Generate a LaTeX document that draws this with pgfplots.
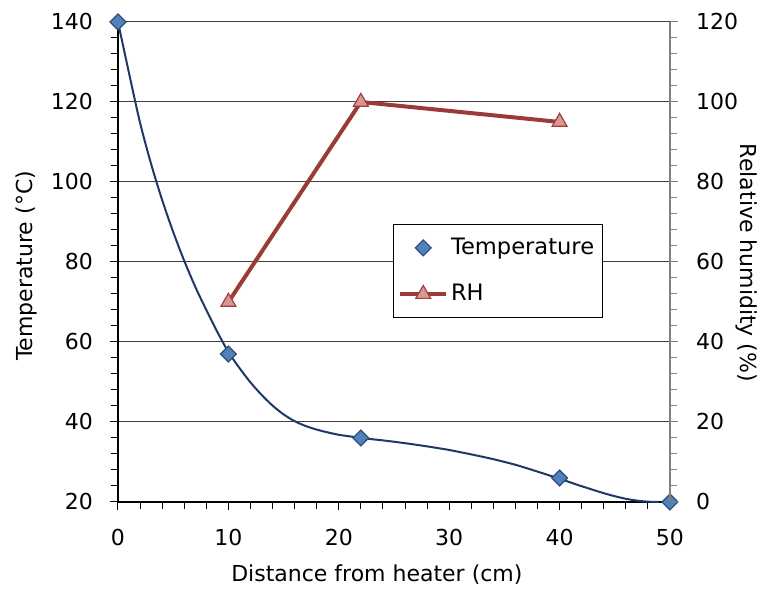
\documentclass[border=0pt]{standalone}
\usepackage{pgfplots}
\pgfplotsset{compat=1.18}
\usepackage{fontspec}
\setmainfont{DejaVu Sans}

\definecolor{tempfill}{HTML}{4F81BD}
\definecolor{tempedge}{HTML}{2C4D75}
\definecolor{trend}{HTML}{1F3864}
\definecolor{rhline}{HTML}{9B3B38}
\definecolor{rhfill}{HTML}{DA9694}
\definecolor{rhedge}{HTML}{A0403C}

\pgfplotsset{
  chartbase/.style={
    scale only axis, width=276pt, height=240pt,
    xmin=0, xmax=50,
    tick align=outside,
    major tick length=4pt, minor tick length=3.5pt,
    /pgf/number format/assume math mode=true,
    tick label style={font=\fontsize{11}{13}\selectfont},
    label style={font=\fontsize{11}{13}\selectfont},
    clip=false,
  },
}

\begin{document}
\begin{tikzpicture}
\useasboundingbox (-59pt,-45pt) rectangle (322pt,251pt);

\begin{axis}[
  chartbase,
  ymin=20, ymax=140,
  axis x line*=bottom, axis y line*=left,
  x axis line style={-, black, line width=0.6pt},
  y axis line style={-, black, line width=0.6pt},
  xtick={0,10,...,50}, ytick={20,40,...,140},
  minor x tick num=4, minor y tick num=4,
  tick style={black, line width=0.5pt},
  ymajorgrids, grid style={black!75, line width=0.5pt},
  yticklabel style={xshift=-5pt},
  xticklabel style={yshift=-6pt},
  xlabel={Distance from heater (cm)},
  xlabel style={at={(rel axis cs:0.469,-0.152)}, anchor=center},
  ylabel={Temperature (°C)},
  ylabel style={at={(rel axis cs:-0.1667,0.4917)}, anchor=center},
]
% trendline
\addplot[color=trend, line width=1pt, smooth, no marks] coordinates {
  (0,140) (1,127.2) (2,114.8) (3,104.5) (4,95.5) (5,87.5) (6,80.3)
  (7,73.8) (8,68) (9,62.5) (10,57.5) (11,53.5) (12,49.9) (13,46.8)
  (14,44.1) (15,41.9) (16,40.2) (17,39) (18,38.1) (19,37.4) (20,36.8)
  (21,36.4) (22,36) (24,35.4) (26,34.7) (28,33.9) (30,33) (32,31.9)
  (34,30.7) (36,29.3) (38,27.6) (40,25.8) (42,23.95) (44,22.2)
  (45,21.45) (46,20.8) (47,20.35) (48,20.08) (49,20)
};
\addplot[only marks, mark=square*, mark size=2.8pt,
  mark options={rotate=45, fill=tempfill, draw=tempedge, line width=0.6pt}]
  coordinates {(0,140) (10,57) (22,36) (40,26) (50,20)};
\end{axis}

\begin{axis}[
  chartbase,
  ymin=0, ymax=120,
  axis x line=none, axis y line*=right,
  y axis line style={-, black!50, line width=0.6pt},
  ytick={0,20,...,120}, minor y tick num=4,
  tick style={black!50, line width=0.5pt},
  yticklabel style={xshift=5.5pt},
  ylabel={Relative humidity (\%)},
  ylabel style={rotate=180, at={(rel axis cs:1.1395,0.498)}, anchor=center},
  legend style={at={(rel axis cs:0.498,0.579)}, anchor=north west,
    draw=black, line width=0.6pt, fill=white,
    font=\fontsize{11.3}{13}\selectfont,
    inner xsep=2.5pt, inner ysep=3pt, row sep=6pt,
    nodes={inner xsep=1.5pt, inner ysep=3.7pt}},
  legend cell align=left,
  legend image code/.code={\draw[mark repeat=2, mark phase=2, #1]
    plot coordinates {(0cm,0cm) (0.4cm,0cm) (0.8cm,0cm)};},
]
\addlegendimage{only marks, mark=square*, mark size=2.8pt,
  mark options={rotate=45, fill=tempfill, draw=tempedge, line width=0.6pt}}
\addlegendentry{Temperature}
\addplot[color=rhline, line width=2pt, mark=triangle*, mark size=4.3pt,
  mark options={fill=rhfill, draw=rhedge, line width=0.6pt}]
  coordinates {(10,50) (22,100) (40,95)};
\addlegendentry{RH}
\end{axis}
\end{tikzpicture}
\end{document}
